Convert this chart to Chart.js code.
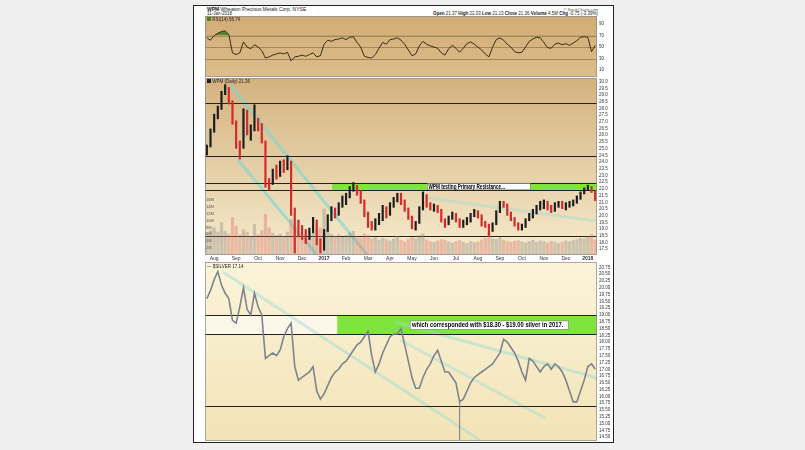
<!DOCTYPE html>
<html><head><meta charset="utf-8">
<script src="https://cdn.jsdelivr.net/npm/chart.js@4.4.0/dist/chart.umd.min.js"></script>
<style>
body{margin:0;background:#efefef;width:805px;height:450px;overflow:hidden;font-family:"Liberation Sans",Arial,sans-serif;position:relative;}
#panel{position:absolute;left:193px;top:5px;width:421px;height:438px;background:#fff;border:1.5px solid #222;box-sizing:border-box;}
canvas{position:absolute;}
.t{position:absolute;font-size:5px;color:#222;white-space:nowrap;line-height:5px;}
.b{font-weight:bold;}
</style></head><body>
<div id="panel"></div>
<div class="t" style="left:207px;top:6.5px;"><span class="b">WPM</span> Wheaton Precious Metals Corp. NYSE</div>
<div class="t" style="left:207px;top:11px;font-size:4.5px;">11-Jan-2018</div>
<div class="t" style="right:207px;top:6.5px;font-size:4px;color:#555;">© StockCharts.com</div>
<div class="t" style="right:207px;top:11px;font-size:4.5px;"><span class="b">Open</span> 21.37 <span class="b">High</span> 22.03 <span class="b">Low</span> 21.13 <span class="b">Close</span> 21.36 <span class="b">Volume</span> 4.5M <span class="b">Chg</span> -0.75 (-3.39%)</div>
<canvas id="rsi" width="409" height="61" style="left:205px;top:16px;"></canvas>
<canvas id="price" width="409" height="184" style="left:205px;top:78px;"></canvas>
<canvas id="silver" width="409" height="179" style="left:205px;top:262px;"></canvas>
<div class="t" style="left:207px;top:17px;font-size:4.5px;"><span style="display:inline-block;width:4px;height:4px;background:#4a7a2a;"></span> RSI(14) 56.74</div>
<div class="t" style="left:207px;top:79px;font-size:4.5px;"><span style="display:inline-block;width:4px;height:4px;background:#222;"></span> WPM (Daily) 21.36</div>
<div class="t" style="left:207px;top:264px;font-size:4.5px;">— $SILVER 17.14</div>
<script>
// ---------- DATA ----------
const monthLabels = ['Aug','Sep','Oct','Nov','Dec','2017','Feb','Mar','Apr','May','Jun','Jul','Aug','Sep','Oct','Nov','Dec','2018'];

const wpmHigh = [25.3,26.5,27.6,28.2,29.3,29.8,29.6,28.6,27.1,25.6,
 28.0,27.9,26.8,28.3,27.3,26.9,25.6,22.8,23.5,23.8,
 24.1,24.2,24.5,24.1,20.6,19.7,19.3,19.0,19.1,19.9,
 19.7,18.3,19.0,20.1,20.7,20.6,21.0,21.5,21.7,22.2,
 22.5,22.3,21.9,21.2,20.3,19.6,19.8,20.2,20.8,20.7,
 21.0,21.4,21.7,21.7,21.2,20.6,20.0,19.6,20.7,21.8,
 21.6,21.0,20.9,20.8,20.5,19.8,20.0,20.3,20.2,19.8,
 19.7,19.9,20.2,20.5,20.4,20.1,19.6,19.4,19.5,20.4,
 21.1,21.1,20.9,20.3,19.9,19.5,19.4,19.8,20.2,20.5,
 20.8,21.1,21.2,21.1,20.8,21.0,21.1,21.1,21.0,21.1,
 21.2,21.5,21.8,22.1,22.3,22.2,21.9];
const wpmLow = [24.5,25.1,26.2,27.2,27.9,29.0,28.3,26.8,25.0,24.2,
 25.0,26.0,25.6,26.3,26.3,25.4,22.1,21.9,22.3,22.7,
 22.9,23.2,23.4,20.0,17.2,18.4,18.2,17.9,18.2,18.7,
 17.8,17.2,17.4,18.8,19.6,19.8,20.0,20.6,20.8,21.3,
 21.8,21.5,20.9,19.9,19.1,18.9,18.9,19.3,19.6,19.8,
 20.0,20.6,21.0,20.8,20.3,19.7,19.0,18.9,19.4,20.4,
 20.6,20.4,20.3,20.2,19.5,19.1,19.3,19.7,19.5,19.1,
 19.1,19.3,19.5,19.9,19.8,19.2,19.1,18.5,18.8,19.3,
 20.2,20.6,20.0,19.6,19.2,18.9,18.9,19.1,19.6,19.8,
 20.1,20.4,20.5,20.4,20.2,20.3,20.6,20.5,20.4,20.6,
 20.7,20.9,21.2,21.6,21.9,21.7,21.1];
const wpmClose = [25.2,26.3,27.4,28.0,29.1,29.5,28.5,27.0,25.3,25.0,
 27.8,26.2,26.5,27.0,26.6,25.6,22.5,22.4,23.2,23.0,
 23.8,23.4,24.2,20.5,19.2,18.8,18.6,18.5,18.9,19.6,
 17.9,17.5,18.9,19.8,20.4,20.1,20.8,21.2,21.5,22.0,
 22.2,21.7,21.1,20.1,19.3,19.1,19.5,19.9,20.6,20.1,
 20.8,21.2,21.5,21.0,20.5,19.9,19.2,19.5,20.5,21.5,
 20.8,20.6,20.7,20.4,19.7,19.3,19.8,20.1,19.6,19.3,
 19.5,19.7,20.0,20.3,20.0,19.4,19.3,18.8,19.4,20.3,
 20.9,20.8,20.2,19.8,19.4,19.1,19.2,19.7,20.0,20.3,
 20.6,20.8,21.0,20.6,20.4,20.8,21.0,20.7,20.8,20.9,
 21.1,21.3,21.7,22.0,22.2,21.8,21.36];
const wpmVolumeM = [6.5,7.2,8.0,6.8,9.5,7.0,6.2,11.0,8.5,6.0,
 7.5,6.8,5.5,9.0,6.0,7.2,12.0,8.0,6.5,5.8,
 6.2,5.5,6.8,10.5,8.5,6.0,5.5,5.8,5.2,6.5,
 7.5,8.0,13.5,7.5,6.2,5.5,6.0,5.2,5.8,6.5,
 7.0,5.5,5.0,6.2,5.8,4.8,5.2,4.5,5.0,4.6,
 4.2,4.8,5.5,4.4,4.0,4.6,5.2,4.8,5.8,6.2,
 4.5,4.0,3.8,4.2,4.6,4.4,3.9,3.6,4.0,4.3,
 3.8,3.5,4.0,3.7,3.9,4.5,5.0,6.5,4.8,4.6,
 5.2,4.4,4.0,3.8,4.1,4.3,3.9,3.6,4.0,4.4,
 3.8,4.2,4.0,3.7,4.1,3.9,3.5,3.8,4.2,4.0,
 4.3,4.6,5.0,4.8,5.4,6.0,4.5];
const rsi14 = [66,62,70,74,77,78,72,40,37,40,
 59,50,47,54,50,44,31,33,36,38,
 40,38,41,26,33,34,36,34,37,40,
 33,35,55,62,60,63,64,66,63,67,
 68,58,50,34,32,31,37,48,58,55,
 63,64,66,62,55,45,35,38,52,60,
 55,52,50,48,40,36,47,53,48,41,
 48,56,59,55,50,45,38,33,50,63,
 66,62,55,50,42,40,41,50,60,64,
 67,66,58,49,48,55,57,54,56,53,
 57,61,67,68,67,42,53];
const silverClose = [19.6,19.9,20.3,20.6,20.1,19.8,19.6,18.8,18.7,19.3,
 20.0,19.2,19.0,19.8,19.3,19.0,17.4,17.5,17.6,17.5,
 17.7,18.2,18.5,18.7,17.1,16.6,16.7,16.8,16.9,17.1,
 16.2,15.9,16.1,16.4,16.7,16.9,17.0,17.2,17.3,17.5,
 17.7,17.9,18.0,18.2,18.4,17.5,16.9,17.2,17.6,17.9,
 18.2,18.3,18.3,18.5,17.9,17.3,16.7,16.3,16.3,16.7,
 17.0,17.2,17.5,17.7,17.3,16.9,16.9,16.7,16.5,15.8,
 15.9,16.2,16.5,16.7,16.8,16.9,17.0,17.1,17.2,17.4,
 17.6,18.1,18.0,17.8,17.6,17.3,16.9,16.6,17.4,17.3,
 17.1,16.9,17.1,17.2,17.0,17.2,17.1,16.9,16.6,16.2,
 15.8,15.8,16.2,16.6,17.1,17.2,17.0];
const silverIntradayLow = {69: 14.4};
const rsiTicks = [10,30,50,70,90];
const rsiLevels = [70,50,30];
const priceTicks = [17.5,18.0,18.5,19.0,19.5,20.0,20.5,21.0,21.5,22.0,22.5,23.0,23.5,24.0,24.5,25.0,25.5,26.0,26.5,27.0,27.5,28.0,28.5,29.0,29.5,30.0];
const volumeTicksM = [2,4,6,8,10,12,14,16];
const priceLevels = [28.4,24.45,22.45,21.9,18.5];
const silverTicks = [14.50,14.75,15.00,15.25,15.50,15.75,16.00,16.25,16.50,16.75,17.00,17.25,17.50,17.75,18.00,18.25,18.50,18.75,19.00,19.25,19.50,19.75,20.00,20.25,20.50,20.75];
const silverLevels = [19.0,18.3,15.65];

// ---------- BUILD ----------
const labels = ['', ''];
monthLabels.forEach((m, k) => {
  const n = k === monthLabels.length - 1 ? 3 : 6;
  labels.push(m);
  for (let j = 1; j < n; j++) labels.push('');
});
const priceRanges = wpmLow.map((l, i) => [l, wpmHigh[i]]);
const downDay = wpmClose.map((c, i) => i > 0 && c < wpmClose[i - 1]);
const spikeData = silverClose.map((c, i) => silverIntradayLow[i] !== undefined ? [silverIntradayLow[i], c] : null);

const deco = {
  id: 'deco',
  beforeDraw(chart, args, o) {
    const {ctx, chartArea: a} = chart;
    const g = ctx.createLinearGradient(0, a.top, 0, a.bottom);
    g.addColorStop(0, o.bg[0]); g.addColorStop(1, o.bg[1]);
    ctx.save(); ctx.fillStyle = g; ctx.fillRect(a.left, a.top, a.width, a.height); ctx.restore();
  },
  beforeDatasetsDraw(chart, args, o) {
    const {ctx, chartArea: a, scales} = chart;
    const xs = scales.x, ys = scales.y;
    const px = v => v === 'end' ? a.right : xs.getPixelForValue(v);
    ctx.save();
    ctx.beginPath(); ctx.rect(a.left, a.top, a.width, a.height); ctx.clip();
    (o.bands || []).forEach(b => {
      const x0 = px(b.from), x1 = px(b.to), y0 = ys.getPixelForValue(b.hi), y1 = ys.getPixelForValue(b.lo);
      ctx.fillStyle = b.color; ctx.fillRect(x0, y0, x1 - x0, y1 - y0);
    });
    (o.trends || []).forEach(t => {
      ctx.strokeStyle = t[4]; ctx.lineWidth = 3;
      ctx.beginPath();
      ctx.moveTo(px(t[0]), ys.getPixelForValue(t[1]));
      ctx.lineTo(px(t[2]), ys.getPixelForValue(t[3]));
      ctx.stroke();
    });
    (o.levels || []).forEach(v => {
      const y = Math.round(ys.getPixelForValue(v)) + 0.5;
      ctx.strokeStyle = o.levelColor; ctx.lineWidth = o.levelWidth || 1;
      ctx.beginPath(); ctx.moveTo(a.left, y); ctx.lineTo(a.right, y); ctx.stroke();
    });
    ctx.restore();
  },
  afterDatasetsDraw(chart, args, o) {
    const {ctx, chartArea: a, scales} = chart;
    const xs = scales.x, ys = scales.y;
    ctx.save();
    (o.boxes || []).forEach(b => {
      const x0 = xs.getPixelForValue(b.from), x1 = xs.getPixelForValue(b.to);
      const y0 = ys.getPixelForValue(b.hi), y1 = ys.getPixelForValue(b.lo);
      ctx.fillStyle = '#ffffff'; ctx.fillRect(x0, y0, x1 - x0, y1 - y0);
      ctx.strokeStyle = '#666'; ctx.lineWidth = 0.5; ctx.strokeRect(x0, y0, x1 - x0, y1 - y0);
      ctx.fillStyle = '#000'; ctx.font = 'bold 6.5px "Liberation Sans", Arial, sans-serif';
      ctx.textBaseline = 'middle';
      const tx = xs.getPixelForValue(b.textFrom), tw = xs.getPixelForValue(b.textTo) - tx;
      const w = ctx.measureText(b.text).width;
      ctx.save();
      ctx.translate(tx, (y0 + y1) / 2 + 0.5);
      ctx.scale(tw / w, 1);
      ctx.fillText(b.text, 0, 0);
      ctx.restore();
    });
    ctx.strokeStyle = '#8a8a8a'; ctx.lineWidth = 0.7;
    ctx.strokeRect(a.left + 0.5, a.top + 0.5, a.width - 1, a.height - 1);
    ctx.restore();
  }
};

const tickFont = {size: 4.5, family: '"Liberation Sans", Arial, sans-serif'};
const noPad = s => { s.paddingTop = 0; s.paddingBottom = 0; s.paddingLeft = 0; s.paddingRight = 0; };
function rightAxis(min, max, ticks, digits) {
  return {
    position: 'right', min, max,
    afterFit: s => { s.width = 17; noPad(s); },
    afterBuildTicks: s => { s.ticks = ticks.map(v => ({value: v})); },
    ticks: {font: tickFont, color: '#333', padding: 2, autoSkip: false, callback: v => Number(v).toFixed(digits)},
    grid: {display: false, drawTicks: false}, border: {display: false}
  };
}
const hiddenX = {type: 'category', offset: true, display: false};
const common = {
  responsive: false, animation: false, devicePixelRatio: 1,
  layout: {padding: 0, autoPadding: false},
  plugins: {legend: {display: false}, tooltip: {enabled: false}}
};

// RSI
new Chart(document.getElementById('rsi'), {
  type: 'line',
  data: {labels, datasets: [{
    data: rsi14, borderColor: '#3a2c16', borderWidth: 1, pointRadius: 0, tension: 0,
    fill: {target: {value: 70}, above: 'rgba(70,130,40,0.9)', below: 'rgba(0,0,0,0)'}
  }]},
  options: {...common,
    scales: {x: hiddenX, y: rightAxis(-2, 104, rsiTicks, 0)},
    plugins: {...common.plugins, deco: {bg: ['#d2ac74', '#dcbd8c'], levels: rsiLevels, levelColor: '#a7875a'}}
  },
  plugins: [deco]
});

// Price + volume
new Chart(document.getElementById('price'), {
  type: 'bar',
  data: {labels, datasets: [
    {data: priceRanges, yAxisID: 'y', grouped: false, order: 0,
     backgroundColor: downDay.map(d => d ? '#d42a2a' : '#1e1e1e'),
     barPercentage: 0.6, categoryPercentage: 1},
    {data: wpmVolumeM, yAxisID: 'vol', grouped: false, order: 1,
     backgroundColor: downDay.map(d => d ? 'rgba(215,110,100,0.38)' : 'rgba(140,135,130,0.38)'),
     barPercentage: 0.9, categoryPercentage: 1}
  ]},
  options: {...common,
    scales: {
      x: {type: 'category', offset: true,
          afterFit: s => { s.height = 7; noPad(s); },
          grid: {display: false, drawTicks: false}, border: {display: false},
          ticks: {autoSkip: false, maxRotation: 0, minRotation: 0, padding: 1, color: '#333',
                  font: c => ({size: 5, family: '"Liberation Sans", Arial, sans-serif', weight: /^20/.test(c.tick && c.tick.label) ? 'bold' : 'normal'})}},
      y: rightAxis(17.07, 30.27, priceTicks, 1),
      vol: {position: 'left', min: 0, max: 51.5,
            afterFit: s => { s.width = 0; noPad(s); },
            afterBuildTicks: s => { s.ticks = volumeTicksM.map(v => ({value: v})); },
            ticks: {mirror: true, autoSkip: false, font: {size: 4}, color: '#555', padding: 1, callback: v => v + 'M'},
            grid: {display: false, drawTicks: false}, border: {display: false}}
    },
    plugins: {...common.plugins, deco: {
      bg: ['#d4b27f', '#f6ebcd'],
      levels: priceLevels, levelColor: '#222',
      bands: [{from: 34.2, to: 'end', lo: 21.9, hi: 22.45, color: '#80e43e'}],
      trends: [[6.3, 29.75, 43.8, 17.07, 'rgba(125,215,210,0.65)'],
               [8.5, 24.16, 30.1, 17.07, 'rgba(125,215,210,0.65)'],
               [60.4, 21.3, 106.6, 19.6, 'rgba(150,220,210,0.4)']],
      boxes: [{from: 60.2, to: 88.3, lo: 21.93, hi: 22.4, textFrom: 60.5, textTo: 81.4, text: 'WPM testing Primary Resistance...'}]
    }}
  },
  plugins: [deco]
});

// Silver
new Chart(document.getElementById('silver'), {
  type: 'line',
  data: {labels, datasets: [
    {data: silverClose, borderColor: '#7d848c', borderWidth: 1.6, pointRadius: 0, tension: 0, order: 0},
    {type: 'bar', data: spikeData, backgroundColor: '#7d848c', barPercentage: 0.3, categoryPercentage: 1, grouped: false, order: 1}
  ]},
  options: {...common,
    scales: {x: hiddenX, y: rightAxis(14.36, 20.95, silverTicks, 2)},
    plugins: {...common.plugins, deco: {
      bg: ['#fbf4da', '#f3e3b6'],
      levels: silverLevels, levelColor: '#222',
      bands: [{from: -0.5, to: 35.6, lo: 18.3, hi: 19.0, color: 'rgba(255,255,255,0.55)'},
              {from: 35.6, to: 'end', lo: 18.3, hi: 19.0, color: '#80e43e'}],
      trends: [[4.4, 20.58, 74.6, 14.39, 'rgba(150,220,210,0.45)'],
               [51.4, 18.74, 106.6, 16.68, 'rgba(150,220,210,0.45)'],
               [52.8, 18.08, 92.4, 15.2, 'rgba(150,220,210,0.4)']],
      boxes: [{from: 55.5, to: 98.7, lo: 18.47, hi: 18.78, textFrom: 56.0, textTo: 97.3, text: 'which corresponded with $18.30 - $19.00 silver in 2017.'}]
    }}
  },
  plugins: [deco]
});
</script>
</body></html>
